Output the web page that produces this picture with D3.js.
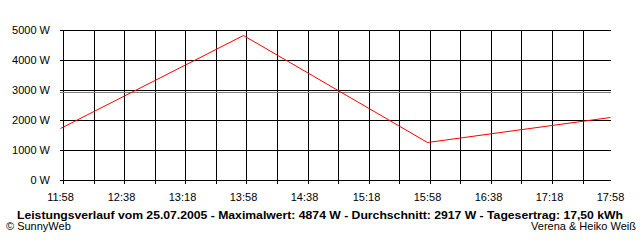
<!DOCTYPE html>
<html lang="de">
<head>
<meta charset="UTF-8">
<title>Leistungsverlauf</title>
<script src="https://d3js.org/d3.v7.min.js"></script>
<style>
    body { margin: 0; background: #fff; }
    svg { display: block; font-family: "Liberation Sans", Arial, sans-serif; }
    .grid line { stroke: #000; shape-rendering: crispEdges; }
</style>
</head>
<body>
<svg width="640" height="240"></svg>
<script>
// data
const times = ["11:58", "13:58", "15:58", "17:58"];
const watts = [1720, 4840, 1277, 2090];
const yTicks = [0, 1000, 2000, 3000, 4000, 5000];
const xLabels = ["11:58", "12:38", "13:18", "13:58", "14:38", "15:18", "15:58", "16:38", "17:18", "17:58"];
const average = 2917;
const title = "Leistungsverlauf vom 25.07.2005 - Maximalwert: 4874 W - Durchschnitt: 2917 W - Tagesertrag: 17,50 kWh";

const parse = d3.timeParse("%Y-%m-%d %H:%M");
const day = "2005-07-25 ";
const data = times.map((t, i) => ({t: parse(day + t), w: watts[i]}));

const svg = d3.select("svg");
const plotLeft = 60, plotRight = 610, plotTop = 30, plotBottom = 180;

const x = d3.scaleTime()
    .domain([parse(day + "11:58"), parse(day + "17:58")])
    .range([plotLeft, plotRight]);
const y = d3.scaleLinear()
    .domain([0, 5000])
    .range([plotBottom, plotTop]);

const px = v => Math.round(v) + 0.5;

// grid every 20 minutes
const gridTimes = d3.timeMinute.every(20).range(x.domain()[0], d3.timeMinute.offset(x.domain()[1], 1));
const grid = svg.append("g").attr("class", "grid");

grid.selectAll(".v").data(gridTimes).enter().append("line")
    .attr("x1", d => px(x(d))).attr("x2", d => px(x(d)))
    .attr("y1", plotTop).attr("y2", plotBottom + 4);

grid.selectAll(".h").data(yTicks).enter().append("line")
    .attr("x1", plotLeft).attr("x2", plotRight + 1)
    .attr("y1", d => px(y(d))).attr("y2", d => px(y(d)));

// average line
svg.append("line")
    .attr("x1", plotLeft).attr("x2", plotRight + 1)
    .attr("y1", px(y(average))).attr("y2", px(y(average)))
    .attr("stroke", "#808080")
    .attr("shape-rendering", "crispEdges");

// y labels
svg.append("g").selectAll("text").data(yTicks).enter().append("text")
    .attr("x", 50)
    .attr("y", d => px(y(d)))
    .attr("dy", "0.35em")
    .attr("text-anchor", "end")
    .attr("font-size", 11)
    .text(d => d + " W");

// x labels
svg.append("g").selectAll("text").data(xLabels).enter().append("text")
    .attr("x", d => px(x(parse(day + d))))
    .attr("y", 201)
    .attr("text-anchor", "middle")
    .attr("font-size", 11)
    .text(d => d);

// power line
const line = d3.line()
    .x(d => px(x(d.t)))
    .y(d => px(y(d.w)));

svg.append("path")
    .datum(data)
    .attr("d", line)
    .attr("fill", "none")
    .attr("stroke", "#ff0000")
    .attr("stroke-width", 1);

// title and credits
svg.append("text")
    .attr("x", 17)
    .attr("y", 219)
    .attr("font-size", 11)
    .attr("font-weight", "bold")
    .attr("textLength", 606)
    .attr("lengthAdjust", "spacingAndGlyphs")
    .text(title);

svg.append("text")
    .attr("x", 6)
    .attr("y", 230)
    .attr("font-size", 11)
    .text("© SunnyWeb");

svg.append("text")
    .attr("x", 636)
    .attr("y", 230)
    .attr("text-anchor", "end")
    .attr("font-size", 11)
    .text("Verena & Heiko Weiß");
</script>
</body>
</html>
